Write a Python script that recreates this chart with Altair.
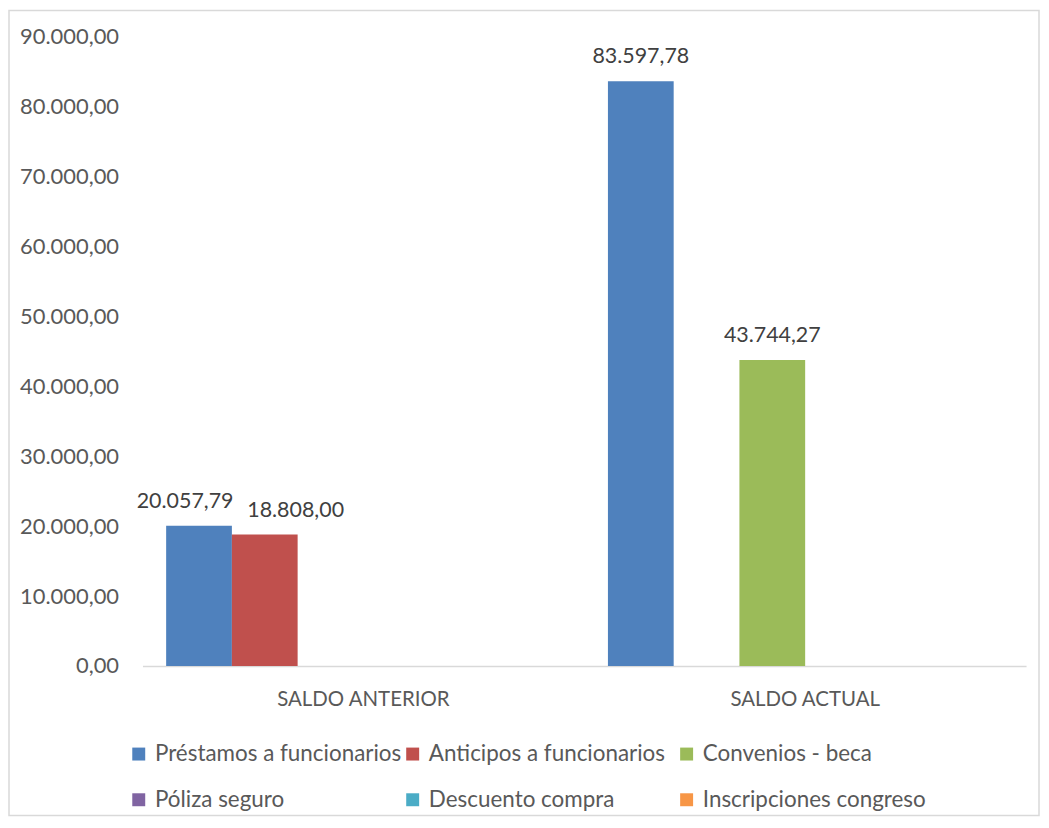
import altair as alt
import pandas as pd

categories = ["SALDO ANTERIOR", "SALDO ACTUAL"]
series = ["Préstamos a funcionarios", "Anticipos a funcionarios", "Convenios - beca",
          "Póliza seguro", "Descuento compra", "Inscripciones congreso"]
colors = ["#4F81BD", "#C0504D", "#9BBB59", "#8064A2", "#4BACC6", "#F79646"]
saldo_anterior = [20057.79, 18808.00, None, None, None, None]
saldo_actual = [83597.78, None, 43744.27, None, None, None]

rows = []
for cat, vals in zip(categories, [saldo_anterior, saldo_actual]):
    for s, v in zip(series, vals):
        if v is not None:
            rows.append({"cat": cat, "serie": s, "valor": v})
df = pd.DataFrame(rows)

FONT = "Lato"
FS = 21.5
W, H = 887, 632

base = alt.Chart(df).encode(
    x=alt.X("cat:N", sort=categories, title=None,
            scale=alt.Scale(domain=categories, paddingInner=0, paddingOuter=0),
            axis=alt.Axis(labelAngle=0, labelFontSize=20.5, labelColor="#595959", labelFont=FONT,
                          labelLimit=500, domainColor="#d9d9d9", domainWidth=1.3, ticks=False,
                          labelPadding=24)),
    xOffset=alt.XOffset("serie:N", scale=alt.Scale(domain=series, paddingInner=0, paddingOuter=0.36)),
    y=alt.Y("valor:Q", title=None,
            scale=alt.Scale(domain=[0, 90000], nice=False),
            axis=alt.Axis(values=list(range(0, 90001, 10000)), format=",.2f", grid=False, domain=False,
                          ticks=False, labelFontSize=22, labelColor="#595959", labelFont=FONT,
                          labelPadding=24)),
)

bars = base.mark_bar().encode(
    color=alt.Color("serie:N", scale=alt.Scale(domain=series, range=colors),
                    legend=alt.Legend(title=None, orient="none", legendX=-15, legendY=709,
                                      direction="horizontal", columns=3, symbolType="square",
                                      symbolSize=169, symbolStrokeWidth=0, labelFontSize=22.5,
                                      labelFont=FONT, labelColor="#595959", labelLimit=400,
                                      gridAlign="all", columnPadding=0, rowPadding=23,
                                      labelOffset=5))
)

# Excel nudges the two crowded labels of SALDO ANTERIOR apart
is_a = (alt.datum.cat == "SALDO ANTERIOR") & (alt.datum.serie == "Préstamos a funcionarios")
is_b = (alt.datum.cat == "SALDO ANTERIOR") & (alt.datum.serie == "Anticipos a funcionarios")

def label_layer(flt, dx):
    return base.transform_filter(flt).mark_text(
        baseline="bottom", dy=-13, dx=dx, fontSize=FS, font=FONT, color="#404040"
    ).encode(text=alt.Text("valor:Q", format=",.2f"))

labels_a = label_layer(is_a, -14)
labels_b = label_layer(is_b, 31)
labels_rest = label_layer(~is_a & ~is_b, 0)

border = alt.Chart(pd.DataFrame({"a": [0]})).mark_rect(fill=None, stroke="#d9d9d9", strokeWidth=1.5).encode(
    x=alt.value(-134), x2=alt.value(W + 13), y=alt.value(-26), y2=alt.value(H + 150)
)

chart = alt.layer(border, bars, labels_a, labels_b, labels_rest).properties(
    width=W, height=H,
    autosize=alt.AutoSizeParams(type="none"),
    padding={"left": 135, "top": 27, "right": 15, "bottom": 153},
).configure(
    locale={"number": {"decimal": ",", "thousands": ".", "grouping": [3], "currency": ["", ""]}}
).configure_view(stroke=None).configure_axis(labelFont=FONT)

chart.save("out.html", embed_options={"renderer": "svg", "actions": False})
